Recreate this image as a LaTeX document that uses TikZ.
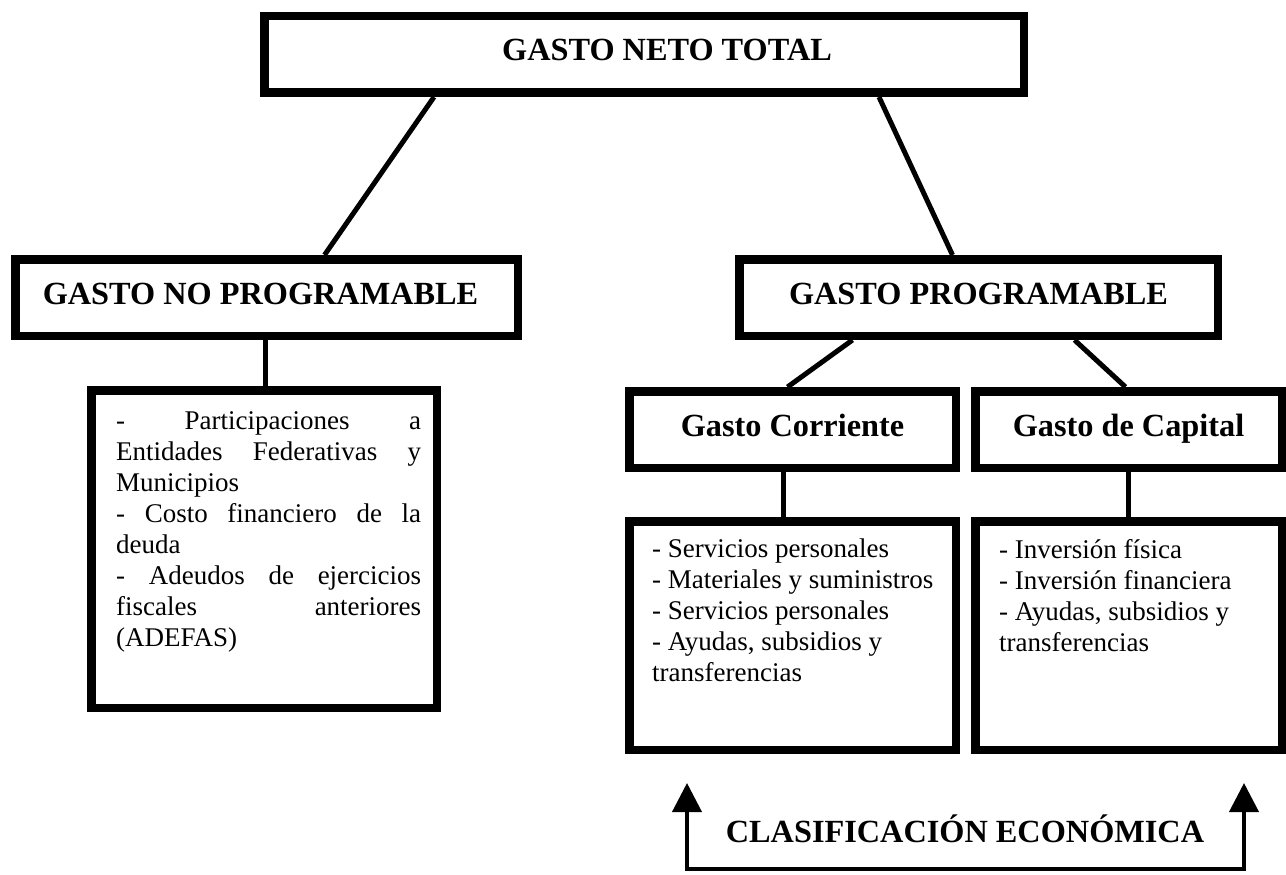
\documentclass[tikz,border=0pt]{standalone}
\usepackage{fontspec}
\setmainfont{Liberation Serif}
\usepackage{tikz}
\usetikzlibrary{arrows.meta,positioning}
\tikzset{
	caja/.style={
		rectangle,
		draw=black,
		line width=8.5pt,
		align=center,
		inner sep=0pt,
		minimum height=76.5pt,
		text height=13pt,
		text depth=0pt,
		font=\fontsize{32.3}{36}\selectfont\bfseries
	},
	lista/.style={
		align=left,
		inner sep=0pt,
		anchor=north west,
		font=\fontsize{27}{31}\selectfont
	},
	conector/.style={line width=5pt},
	flecha/.style={line width=4pt,{Triangle[width=29pt,length=29pt]}-{Triangle[width=29pt,length=29pt]}}
}
\newcommand{\renglon}[1]{\makebox[305pt][s]{#1}}

\begin{document}
\begin{tikzpicture}[x=1pt,y=-1pt]
		\useasboundingbox (0,0) rectangle (1286,875);
		\node[caja,minimum width=759.5pt] (total) at (644,54.5) {\hspace*{46pt}GASTO NETO TOTAL};
		\node[caja,minimum width=502.5pt] (gnp) at (266.5,297.5) {GASTO NO PROGRAMABLE\hspace*{12pt}};
		\node[caja,minimum width=478.5pt] (gp) at (978.5,297.5) {GASTO PROGRAMABLE};
		\node[caja,minimum width=326.5pt] (corr) at (792.5,429.5) {Gasto Corriente};
		\node[caja,minimum width=306.5pt,right=11pt of corr] (capital) {Gasto de Capital};
		\node[caja,minimum width=345.5pt,minimum height=317.5pt,below=46pt of gnp,xshift=-2.5pt] (gnplist) {};
		\node[caja,minimum width=326.5pt,minimum height=228.5pt,below=45pt of corr] (corrlist) {};
		\node[caja,minimum width=306.5pt,minimum height=228.5pt,below=45pt of capital] (caplist) {};

		\node[lista] (gnptxt) at ([shift={(29,25)}]gnplist.north west) {\renglon{- Participaciones a}\\
			\renglon{Entidades Federativas y}\\
			Municipios\\
			\renglon{- Costo financiero de la}\\
			deuda\\
			\renglon{- Adeudos de ejercicios}\\
			\renglon{fiscales anteriores}\\
			(ADEFAS)};
		\node[lista] (corrtxt) at ([shift={(27,22)}]corrlist.north west) {- Servicios personales\\
			- Materiales y suministros\\
			- Servicios personales\\
			- Ayudas, subsidios y\\
			transferencias};
		\node[lista] (captxt) at ([shift={(28,22)}]caplist.north west) {- Inversión física\\
			- Inversión financiera\\
			- Ayudas, subsidios y\\
			transferencias};

		\draw[conector] ([xshift=-210]total.south) -- ([xshift=58]gnp.north);
		\draw[conector] ([xshift=235]total.south) -- ([xshift=-26]gp.north);
		\draw[conector] ([xshift=-1.5]gnp.south) -- ([xshift=-1.5]gnp.south |- gnplist.north);
		\draw[conector] ([xshift=-126]gp.south) -- ([xshift=-5]corr.north);
		\draw[conector] ([xshift=96]gp.south) -- ([xshift=-3]capital.north);
		\draw[conector] ([xshift=-9]corr.south) -- ([xshift=-9]corr.south |- corrlist.north);
		\draw[conector] (capital.south) -- (capital.south |- caplist.north);

		\node[font=\fontsize{32.3}{36}\selectfont\bfseries,anchor=base] (clasif) at (965,842) {CLASIFICACIÓN ECONÓMICA};
		\coordinate (puntaizq) at (687,783);
		\coordinate (esqizq) at (687,869);
		\coordinate (esqder) at (1244,869);
		\coordinate (puntader) at (1244,783);
		\draw[flecha] (puntaizq) -- (esqizq) -- (esqder) -- (puntader);
	\end{tikzpicture}
\end{document}
